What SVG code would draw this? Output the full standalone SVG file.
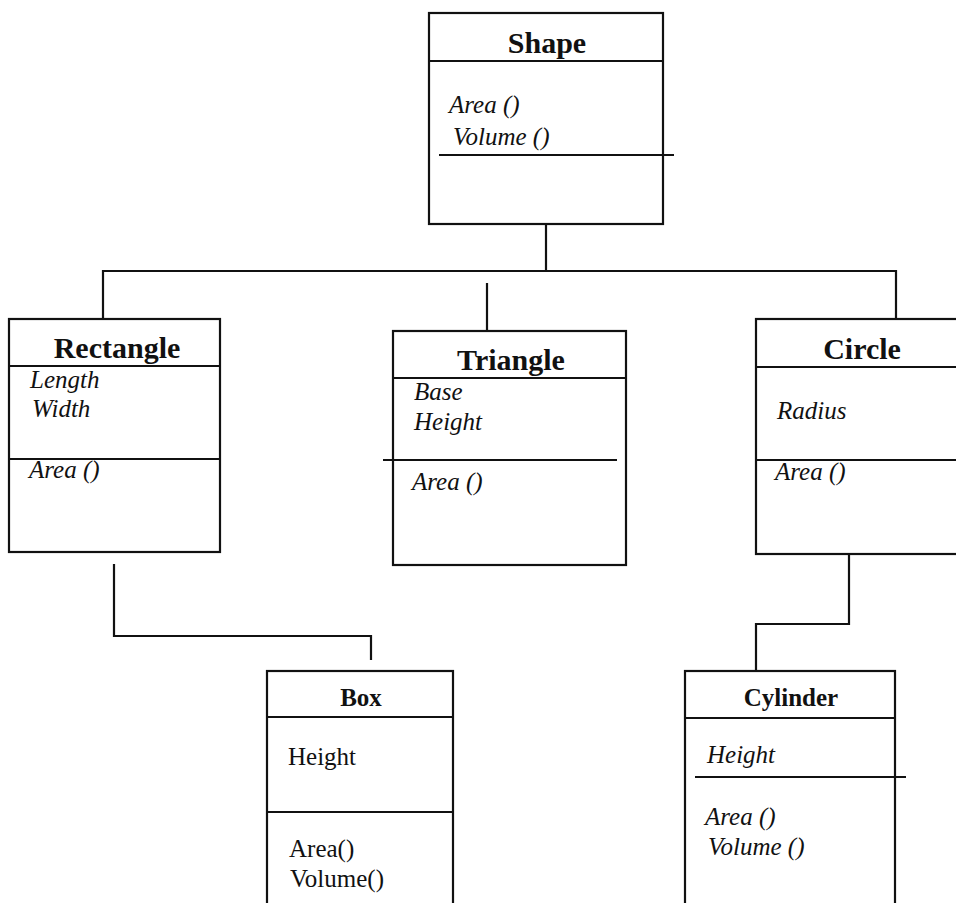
<svg xmlns="http://www.w3.org/2000/svg" width="956" height="903" viewBox="0 0 956 903">
<style>
.box{fill:none;stroke:#111;stroke-width:2.2}
.ln{stroke:#111;stroke-width:2.2;fill:none}
.t{font-family:"Liberation Serif","Times New Roman",serif;font-weight:bold;font-size:30px;fill:#111;text-anchor:middle}
.ts{font-family:"Liberation Serif","Times New Roman",serif;font-weight:bold;font-size:25px;fill:#111;text-anchor:middle}
.i{font-family:"Liberation Serif","Times New Roman",serif;font-style:italic;font-size:25px;fill:#111}
.r{font-family:"Liberation Serif","Times New Roman",serif;font-size:25px;fill:#111}
</style>
<rect width="956" height="903" fill="#fff"/>
<g id="connectors" class="ln">
<polyline points="546,224 546,271"/>
<polyline points="103,319 103,271 896,271 896,319"/>
<polyline points="487,283 487,331"/>
<polyline points="114,564 114,636 371,636 371,660"/>
<polyline points="849,554 849,624 756,624 756,671"/>
</g>
<g id="shape">
<rect class="box" x="429" y="13" width="234" height="211"/>
<line class="ln" x1="429" y1="61" x2="663" y2="61"/>
<line class="ln" x1="439" y1="155" x2="674" y2="155"/>
<text class="t" x="547" y="53">Shape</text>
<text class="i" x="449" y="113">Area ()</text>
<text class="i" x="453" y="145">Volume ()</text>
</g>
<g id="rectangle">
<rect class="box" x="9" y="319" width="211" height="233"/>
<line class="ln" x1="9" y1="366" x2="220" y2="366"/>
<line class="ln" x1="9" y1="459" x2="220" y2="459"/>
<text class="t" x="117" y="358">Rectangle</text>
<text class="i" x="30" y="388">Length</text>
<text class="i" x="32" y="417">Width</text>
<text class="i" x="29" y="478">Area ()</text>
</g>
<g id="triangle">
<rect class="box" x="393" y="331" width="233" height="234"/>
<line class="ln" x1="393" y1="378" x2="626" y2="378"/>
<line class="ln" x1="383" y1="460" x2="617" y2="460"/>
<text class="t" x="511" y="370">Triangle</text>
<text class="i" x="414" y="400">Base</text>
<text class="i" x="414" y="430">Height</text>
<text class="i" x="412" y="490">Area ()</text>
</g>
<g id="circle">
<rect class="box" x="756" y="319" width="220" height="235"/>
<line class="ln" x1="756" y1="367" x2="976" y2="367"/>
<line class="ln" x1="756" y1="460" x2="976" y2="460"/>
<text class="t" x="862" y="359">Circle</text>
<text class="i" x="777" y="419">Radius</text>
<text class="i" x="775" y="480">Area ()</text>
</g>
<g id="box">
<rect class="box" x="267" y="671" width="186" height="250"/>
<line class="ln" x1="267" y1="717" x2="453" y2="717"/>
<line class="ln" x1="267" y1="812" x2="453" y2="812"/>
<text class="ts" x="361" y="706">Box</text>
<text class="r" x="288" y="765">Height</text>
<text class="r" x="289" y="857">Area()</text>
<text class="r" x="290" y="887">Volume()</text>
</g>
<g id="cylinder">
<rect class="box" x="685" y="671" width="210" height="250"/>
<line class="ln" x1="685" y1="718" x2="895" y2="718"/>
<line class="ln" x1="695" y1="777" x2="906" y2="777"/>
<text class="ts" x="791" y="706">Cylinder</text>
<text class="i" x="707" y="763">Height</text>
<text class="i" x="705" y="825">Area ()</text>
<text class="i" x="708" y="855">Volume ()</text>
</g>
</svg>
